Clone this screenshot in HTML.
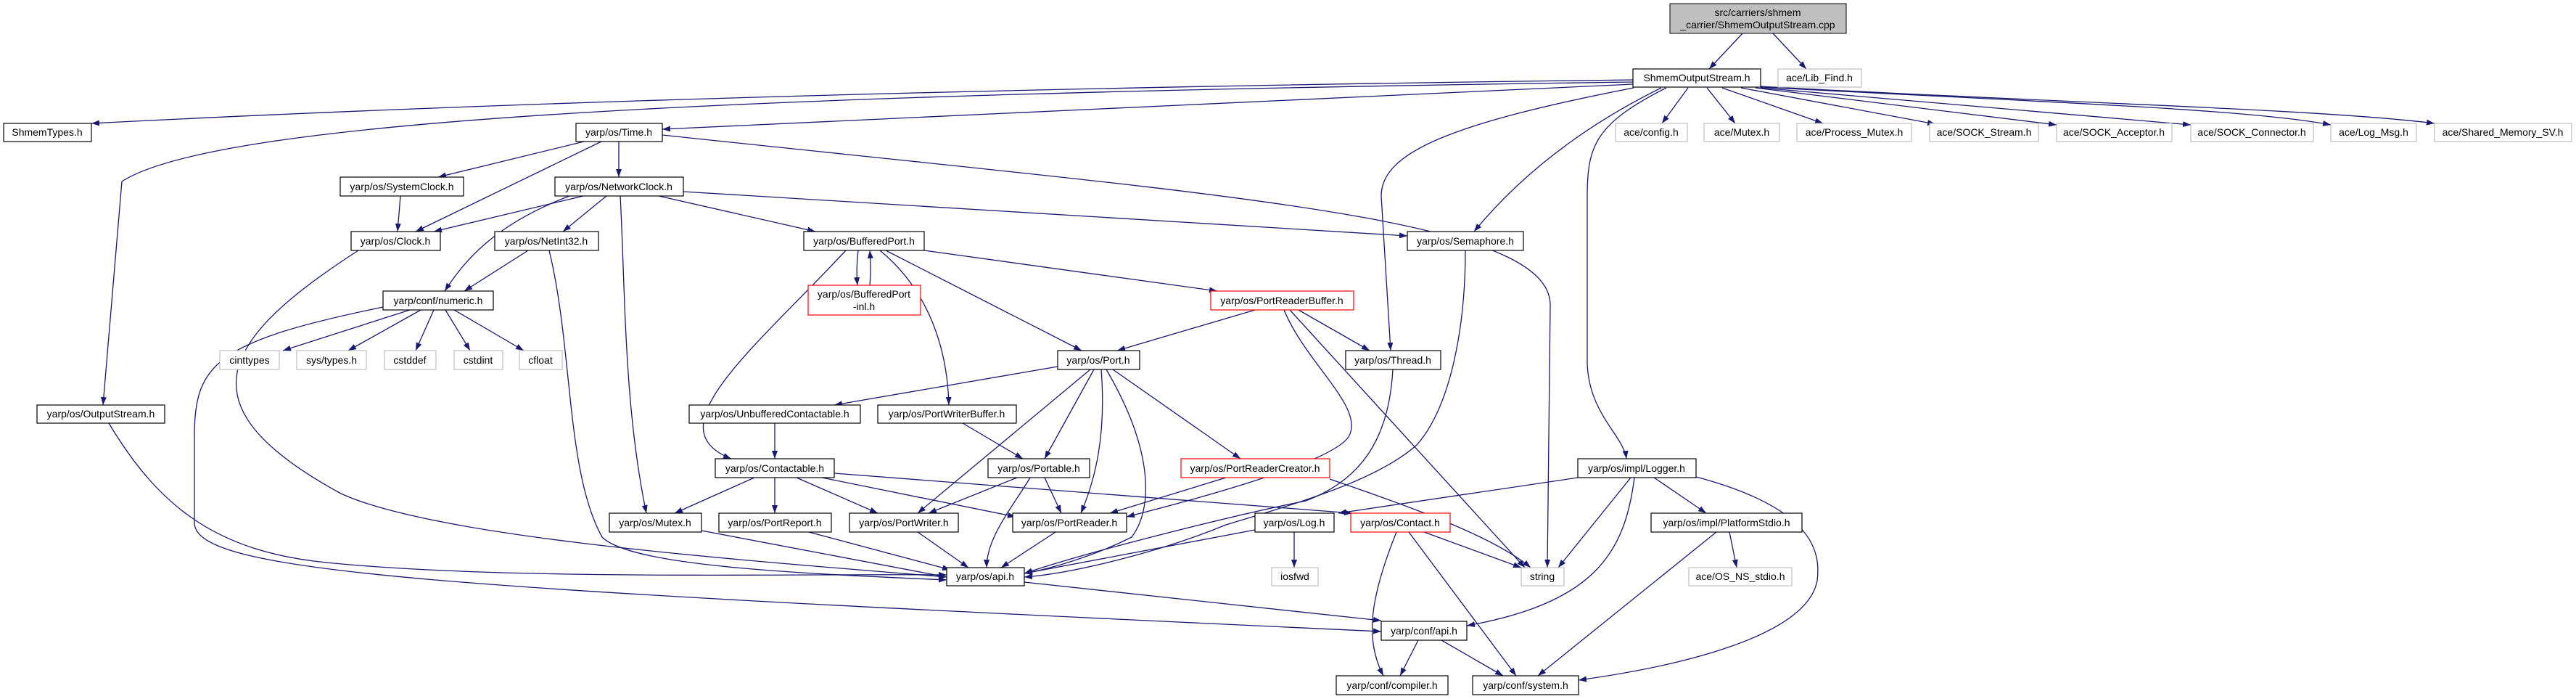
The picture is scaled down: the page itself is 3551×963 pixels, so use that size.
<!DOCTYPE html>
<html><head><meta charset="utf-8"><style>
html,body{margin:0;padding:0;background:#fff;}
svg{display:block;}
text{font-family:"Liberation Sans",sans-serif;font-size:14px;fill:#000;}
.e{fill:none;stroke:#191970;stroke-width:1.3;marker-end:url(#a);}
.n{fill:#fff;stroke:#000;stroke-width:1.2;}
.g{fill:#fff;stroke:#bfbfbf;stroke-width:1.2;}
.r{fill:#fff;stroke:#ff0000;stroke-width:1.2;}
</style></head><body>
<svg width="3551" height="963" viewBox="0 0 3551 963" xmlns="http://www.w3.org/2000/svg">
<defs><marker id="a" markerUnits="userSpaceOnUse" markerWidth="12" markerHeight="9" refX="11" refY="4" orient="auto"><path d="M0,0 L11,4 L0,8 z" fill="#191970"/></marker></defs>
<g>
<!-- root edges -->
<path class="e" d="M2402,46 L2356,95"/>
<path class="e" d="M2444,46 L2490,95"/>
<!-- ShmemOutputStream edges -->
<path class="e" d="M2251,110 Q1000,125 126,170"/>
<path class="e" d="M2251,113 C1000,130 300,165 168,250 L142,558"/>
<path class="e" d="M2251,116 L913,178"/>
<path class="e" d="M2252,121 C2000,170 1904,210 1904,270 L1917,483"/>
<path class="e" d="M2290,121 Q2130,200 2032,319"/>
<path class="e" d="M2297,121 C2200,170 2188,200 2188,270 L2188,500 C2190,570 2238,600 2242,632"/>
<path class="e" d="M2327,121 L2291,170"/>
<path class="e" d="M2353,121 L2392,170"/>
<path class="e" d="M2374,121 L2513,170"/>
<path class="e" d="M2400,121 L2668,171"/>
<path class="e" d="M2420,121 L2835,172"/>
<path class="e" d="M2427,121 L3020,172"/>
<path class="e" d="M2427,120 C2800,140 3100,150 3213,172"/>
<path class="e" d="M2427,119 C2800,140 3200,150 3356,170"/>
<!-- Time.h -->
<path class="e" d="M805,195 L604,244"/>
<path class="e" d="M829,195 L573,319"/>
<path class="e" d="M853,195 L853,244"/>
<path class="e" d="M913,186 C1700,270 2137,300 2137,420 L2133,782"/>
<!-- SystemClock -->
<path class="e" d="M552,270 L548,319"/>
<!-- NetworkClock -->
<path class="e" d="M804,270 L598,319"/>
<path class="e" d="M785,270 C680,310 640,360 613,401"/>
<path class="e" d="M836,270 L776,319"/>
<path class="e" d="M855,270 C862,400 860,560 891,707"/>
<path class="e" d="M908,270 L1124,319"/>
<path class="e" d="M942,264 L1940,325"/>
<!-- Clock, numeric, OutputStream, NetInt32 to api -->
<path class="e" d="M494,345 C300,470 250,560 470,680 C600,740 1000,770 1305,795"/>
<path class="e" d="M528,423 C300,470 268,500 268,600 L268,720 C268,790 600,810 1904,870"/>
<path class="e" d="M150,583 C220,700 300,760 450,775 C700,800 1100,790 1305,792"/>
<path class="e" d="M757,345 C790,480 780,650 830,740 C870,780 1100,790 1305,799"/>
<path class="e" d="M728,345 L640,401"/>
<!-- numeric children -->
<path class="e" d="M565,427 L390,483"/>
<path class="e" d="M580,427 L480,483"/>
<path class="e" d="M598,427 L573,483"/>
<path class="e" d="M614,427 L648,483"/>
<path class="e" d="M626,427 L722,483"/>
<!-- BufferedPort -->
<path class="e" d="M1183,345 Q1180,370 1182,393"/>
<path class="e" d="M1199,393 Q1201,370 1199,345"/>
<path class="e" d="M1274,345 L1678,401"/>
<path class="e" d="M1221,345 L1491,483"/>
<path class="e" d="M1213,345 C1280,400 1306,480 1308,558"/>
<path class="e" d="M1166,345 C1040,480 900,590 1008,632"/>
<!-- PortReaderBuffer -->
<path class="e" d="M1730,427 L1540,483"/>
<path class="e" d="M1790,427 L1888,483"/>
<path class="e" d="M1770,427 C1800,500 1880,560 1860,600 C1840,640 1600,700 1553,712"/>
<path class="e" d="M1778,427 L2102,782"/>
<!-- Thread / Semaphore to api -->
<path class="e" d="M1920,509 C1915,600 1880,660 1800,690 C1700,710 1500,760 1412,790"/>
<path class="e" d="M2020,345 C2020,450 2000,560 1953,613 C1900,660 1800,690 1690,723 C1600,760 1480,790 1412,795"/>
<!-- Port.h -->
<path class="e" d="M1458,505 L1150,558"/>
<path class="e" d="M1503,509 L1265,707"/>
<path class="e" d="M1508,509 L1440,632"/>
<path class="e" d="M1518,509 C1525,600 1510,660 1490,707"/>
<path class="e" d="M1525,509 C1590,620 1590,700 1560,740 C1500,770 1440,785 1412,790"/>
<path class="e" d="M1534,509 L1710,632"/>
<!-- UnbufferedContactable / PortWriterBuffer -->
<path class="e" d="M1068,583 L1068,632"/>
<path class="e" d="M1327,583 L1410,632"/>
<!-- Contactable -->
<path class="e" d="M1040,658 L930,707"/>
<path class="e" d="M1068,658 L1068,707"/>
<path class="e" d="M1098,658 L1210,707"/>
<path class="e" d="M1133,658 L1400,712"/>
<path class="e" d="M1150,652 L1864,707"/>
<!-- Mutex, PortReport -->
<path class="e" d="M967,731 L1305,795"/>
<path class="e" d="M1115,733 L1310,785"/>
<!-- Portable -->
<path class="e" d="M1402,658 L1280,707"/>
<path class="e" d="M1440,658 L1463,707"/>
<path class="e" d="M1420,658 C1395,700 1360,740 1360,782"/>
<!-- PortReaderCreator -->
<path class="e" d="M1690,658 L1530,707"/>
<path class="e" d="M1833,660 C1950,700 2060,740 2110,782"/>
<!-- PortWriter, PortReader, Log -->
<path class="e" d="M1265,733 L1335,782"/>
<path class="e" d="M1455,733 L1380,782"/>
<path class="e" d="M1730,730 L1412,790"/>
<path class="e" d="M1784,733 L1784,782"/>
<!-- Logger -->
<path class="e" d="M2175,658 L1845,707"/>
<path class="e" d="M2248,658 L2148,782"/>
<path class="e" d="M2253,658 C2240,760 2200,830 2022,862"/>
<path class="e" d="M2280,658 L2352,707"/>
<path class="e" d="M2338,657 C2500,700 2510,760 2505,800 C2490,880 2300,920 2176,937"/>
<!-- PlatformStdio -->
<path class="e" d="M2384,733 L2394,782"/>
<path class="e" d="M2366,733 L2120,931"/>
<!-- Contact -->
<path class="e" d="M1925,733 C1890,820 1880,880 1907,931"/>
<path class="e" d="M1942,733 L2090,931"/>
<path class="e" d="M1963,733 L2097,782"/>
<!-- api -->
<path class="e" d="M1412,802 L1904,855"/>
<path class="e" d="M1955,882 L1930,931"/>
<path class="e" d="M1987,882 L2072,931"/>
</g>
<g>
<rect x="2302" y="5" width="243" height="41" fill="#bfbfbf" stroke="#000"/>
<text x="2423" y="22" text-anchor="middle">src/carriers/shmem</text>
<text x="2423" y="39" text-anchor="middle">_carrier/ShmemOutputStream.cpp</text>

<rect class="n" x="2251" y="95" width="176" height="25"/><text x="2339" y="112" text-anchor="middle">ShmemOutputStream.h</text>
<rect class="g" x="2451" y="95" width="115" height="25"/><text x="2508" y="112" text-anchor="middle">ace/Lib_Find.h</text>

<rect class="n" x="5" y="170" width="121" height="25"/><text x="65" y="187" text-anchor="middle">ShmemTypes.h</text>
<rect class="n" x="794" y="170" width="119" height="25"/><text x="853" y="187" text-anchor="middle">yarp/os/Time.h</text>
<rect class="g" x="2227" y="170" width="99" height="25"/><text x="2276" y="187" text-anchor="middle">ace/config.h</text>
<rect class="g" x="2349" y="170" width="104" height="25"/><text x="2401" y="187" text-anchor="middle">ace/Mutex.h</text>
<rect class="g" x="2477" y="170" width="158" height="25"/><text x="2556" y="187" text-anchor="middle">ace/Process_Mutex.h</text>
<rect class="g" x="2660" y="170" width="150" height="25"/><text x="2735" y="187" text-anchor="middle">ace/SOCK_Stream.h</text>
<rect class="g" x="2835" y="170" width="159" height="25"/><text x="2914" y="187" text-anchor="middle">ace/SOCK_Acceptor.h</text>
<rect class="g" x="3020" y="170" width="169" height="25"/><text x="3104" y="187" text-anchor="middle">ace/SOCK_Connector.h</text>
<rect class="g" x="3213" y="170" width="118" height="25"/><text x="3272" y="187" text-anchor="middle">ace/Log_Msg.h</text>
<rect class="g" x="3356" y="170" width="189" height="25"/><text x="3450" y="187" text-anchor="middle">ace/Shared_Memory_SV.h</text>

<rect class="n" x="469" y="244" width="170" height="26"/><text x="554" y="262" text-anchor="middle">yarp/os/SystemClock.h</text>
<rect class="n" x="765" y="244" width="177" height="26"/><text x="853" y="262" text-anchor="middle">yarp/os/NetworkClock.h</text>

<rect class="n" x="484" y="319" width="123" height="26"/><text x="545" y="337" text-anchor="middle">yarp/os/Clock.h</text>
<rect class="n" x="682" y="319" width="143" height="26"/><text x="753" y="337" text-anchor="middle">yarp/os/NetInt32.h</text>
<rect class="n" x="1108" y="319" width="166" height="26"/><text x="1191" y="337" text-anchor="middle">yarp/os/BufferedPort.h</text>
<rect class="n" x="1940" y="319" width="160" height="26"/><text x="2020" y="337" text-anchor="middle">yarp/os/Semaphore.h</text>

<rect class="r" x="1114" y="393" width="155" height="41"/><text x="1191" y="410" text-anchor="middle">yarp/os/BufferedPort</text><text x="1191" y="427" text-anchor="middle">-inl.h</text>
<rect class="n" x="528" y="401" width="152" height="26"/><text x="604" y="419" text-anchor="middle">yarp/conf/numeric.h</text>
<rect class="r" x="1669" y="401" width="197" height="26"/><text x="1767" y="419" text-anchor="middle">yarp/os/PortReaderBuffer.h</text>

<rect class="g" x="303" y="483" width="82" height="26"/><text x="344" y="501" text-anchor="middle">cinttypes</text>
<rect class="g" x="409" y="483" width="96" height="26"/><text x="457" y="501" text-anchor="middle">sys/types.h</text>
<rect class="g" x="530" y="483" width="71" height="26"/><text x="565" y="501" text-anchor="middle">cstddef</text>
<rect class="g" x="626" y="483" width="67" height="26"/><text x="659" y="501" text-anchor="middle">cstdint</text>
<rect class="g" x="716" y="483" width="59" height="26"/><text x="745" y="501" text-anchor="middle">cfloat</text>
<rect class="n" x="1458" y="483" width="113" height="26"/><text x="1514" y="501" text-anchor="middle">yarp/os/Port.h</text>
<rect class="n" x="1855" y="483" width="131" height="26"/><text x="1920" y="501" text-anchor="middle">yarp/os/Thread.h</text>

<rect class="n" x="51" y="558" width="176" height="25"/><text x="139" y="575" text-anchor="middle">yarp/os/OutputStream.h</text>
<rect class="n" x="950" y="558" width="236" height="25"/><text x="1068" y="575" text-anchor="middle">yarp/os/UnbufferedContactable.h</text>
<rect class="n" x="1210" y="558" width="191" height="25"/><text x="1305" y="575" text-anchor="middle">yarp/os/PortWriterBuffer.h</text>

<rect class="n" x="986" y="632" width="164" height="26"/><text x="1068" y="650" text-anchor="middle">yarp/os/Contactable.h</text>
<rect class="n" x="1362" y="632" width="140" height="26"/><text x="1432" y="650" text-anchor="middle">yarp/os/Portable.h</text>
<rect class="r" x="1628" y="632" width="205" height="26"/><text x="1730" y="650" text-anchor="middle">yarp/os/PortReaderCreator.h</text>
<rect class="n" x="2175" y="632" width="163" height="26"/><text x="2256" y="650" text-anchor="middle">yarp/os/impl/Logger.h</text>

<rect class="n" x="840" y="707" width="127" height="26"/><text x="903" y="725" text-anchor="middle">yarp/os/Mutex.h</text>
<rect class="n" x="991" y="707" width="155" height="26"/><text x="1068" y="725" text-anchor="middle">yarp/os/PortReport.h</text>
<rect class="n" x="1171" y="707" width="150" height="26"/><text x="1246" y="725" text-anchor="middle">yarp/os/PortWriter.h</text>
<rect class="n" x="1396" y="707" width="157" height="26"/><text x="1474" y="725" text-anchor="middle">yarp/os/PortReader.h</text>
<rect class="n" x="1730" y="707" width="109" height="26"/><text x="1784" y="725" text-anchor="middle">yarp/os/Log.h</text>
<rect class="r" x="1862" y="707" width="137" height="26"/><text x="1930" y="725" text-anchor="middle">yarp/os/Contact.h</text>
<rect class="n" x="2276" y="707" width="208" height="26"/><text x="2380" y="725" text-anchor="middle">yarp/os/impl/PlatformStdio.h</text>

<rect class="n" x="1305" y="782" width="107" height="25"/><text x="1358" y="799" text-anchor="middle">yarp/os/api.h</text>
<rect class="g" x="1753" y="782" width="64" height="25"/><text x="1785" y="799" text-anchor="middle">iosfwd</text>
<rect class="g" x="2097" y="782" width="59" height="25"/><text x="2126" y="799" text-anchor="middle">string</text>
<rect class="g" x="2328" y="782" width="142" height="25"/><text x="2399" y="799" text-anchor="middle">ace/OS_NS_stdio.h</text>

<rect class="n" x="1904" y="856" width="118" height="26"/><text x="1963" y="874" text-anchor="middle">yarp/conf/api.h</text>

<rect class="n" x="1842" y="931" width="154" height="26"/><text x="1919" y="949" text-anchor="middle">yarp/conf/compiler.h</text>
<rect class="n" x="2030" y="931" width="146" height="26"/><text x="2103" y="949" text-anchor="middle">yarp/conf/system.h</text>
</g>
</svg>
</body></html>
